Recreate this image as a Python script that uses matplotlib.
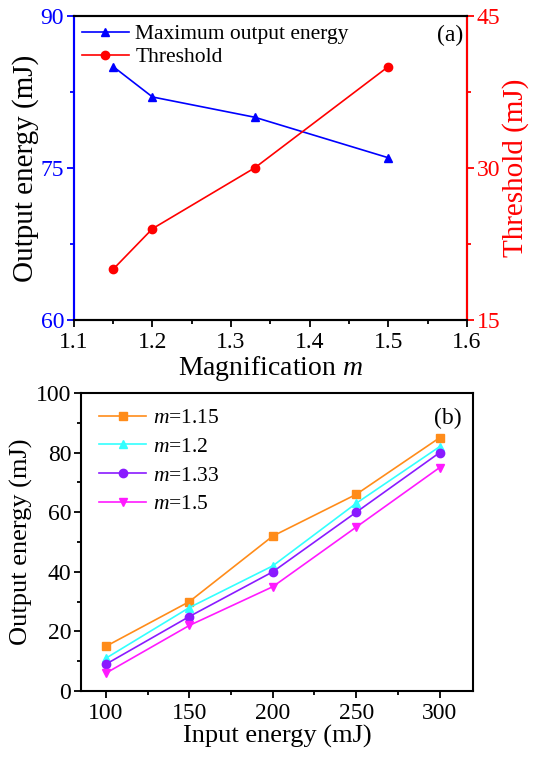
"""Two-panel chart: output energy / threshold vs magnification, and output vs input energy."""

import matplotlib
matplotlib.use('Agg')
import matplotlib.pyplot as plt
from matplotlib.ticker import MultipleLocator

plt.rcParams['font.family'] = ['Liberation Serif', 'DejaVu Serif']
plt.rcParams['mathtext.fontset'] = 'custom'
plt.rcParams['mathtext.rm'] = 'Liberation Serif'
plt.rcParams['mathtext.it'] = 'Liberation Serif:italic'
plt.rcParams['xtick.direction'] = 'out'
plt.rcParams['ytick.direction'] = 'out'

# Panel (a)
magnification = [1.15, 1.2, 1.33, 1.5]
max_output = [85, 82, 80, 76]
threshold = [20, 24, 30, 40]

# Panel (b)
input_energy = [100, 150, 200, 250, 300]
out_m115 = [15, 30, 52, 66, 85]
out_m12 = [11, 28, 42, 63, 82]
out_m133 = [9, 25, 40, 60, 80]
out_m15 = [6, 22, 35, 55, 75]

BLUE = '#0000FF'
RED = '#FF0000'

fig = plt.figure(figsize=(5.43, 7.58), dpi=100)

# ---- panel (a) ----
ax1 = fig.add_axes([0.136, 0.578, 0.724, 0.401])
ax2 = ax1.twinx()

l1, = ax1.plot(magnification, max_output, color=BLUE, marker='^', markersize=6,
               linewidth=1.2, label='Maximum output energy')
l2, = ax2.plot(magnification, threshold, color=RED, marker='o', markersize=6,
               linewidth=1.2, label='Threshold')

ax1.set_xlim(1.1, 1.6)
ax1.set_ylim(60, 90)
ax2.set_ylim(15, 45)
ax1.xaxis.set_major_locator(MultipleLocator(0.1))
ax1.xaxis.set_minor_locator(MultipleLocator(0.05))
ax1.yaxis.set_major_locator(MultipleLocator(15))
ax1.yaxis.set_minor_locator(MultipleLocator(7.5))
ax2.yaxis.set_major_locator(MultipleLocator(15))
ax2.yaxis.set_minor_locator(MultipleLocator(7.5))
ax1.xaxis.set_major_formatter(lambda v, p: f'{v:.1f}')

for sp in ('left', 'right', 'top', 'bottom'):
    ax1.spines[sp].set_linewidth(1.5)
    ax2.spines[sp].set_linewidth(1.5)
ax2.spines['left'].set_color(BLUE)
ax2.spines['right'].set_color(RED)
ax1.spines['left'].set_color(BLUE)

ax1.tick_params(axis='x', which='major', length=5, width=1.3, labelsize=17)
ax1.tick_params(axis='x', which='minor', length=3, width=1.3)
ax1.tick_params(axis='y', which='both', colors=BLUE, labelcolor=BLUE, labelsize=17, width=1.3)
ax1.tick_params(axis='y', which='major', length=5, pad=2)
ax1.tick_params(axis='y', which='minor', length=3)
ax2.tick_params(axis='y', which='both', colors=RED, labelcolor=RED, labelsize=17, width=1.3)
ax2.tick_params(axis='y', which='major', length=5, pad=2)
ax2.tick_params(axis='y', which='minor', length=3)

ax1.set_xlabel(r'Magnification $m$', fontsize=20, labelpad=1)
ax1.set_ylabel('Output energy (mJ)', fontsize=21, labelpad=1)
ax2.set_ylabel('Threshold (mJ)', fontsize=21, color=RED, labelpad=1)

ax1.legend(handles=[l1, l2], loc='upper left', bbox_to_anchor=(-0.005, 1.005),
           frameon=False, fontsize=15.5, handlelength=2.2, borderaxespad=0.05,
           labelspacing=0.15, handletextpad=0.3)
ax1.text(0.99, 0.97, '(a)', transform=ax1.transAxes, ha='right', va='top', fontsize=17)

# ---- panel (b) ----
ax3 = fig.add_axes([0.149, 0.0884, 0.722, 0.393])
series = [
    (out_m115, '#FF8C1A', 's', r'$m$=1.15'),
    (out_m12, '#33FFFF', '^', r'$m$=1.2'),
    (out_m133, '#8A1AFF', 'o', r'$m$=1.33'),
    (out_m15, '#FF1AFF', 'v', r'$m$=1.5'),
]
for vals, col, mk, lab in series:
    ax3.plot(input_energy, vals, color=col, marker=mk, markersize=6,
             linewidth=1.2, label=lab)

ax3.set_xlim(85, 320)
ax3.set_ylim(0, 100)
ax3.xaxis.set_major_locator(MultipleLocator(50))
ax3.xaxis.set_minor_locator(MultipleLocator(25))
ax3.yaxis.set_major_locator(MultipleLocator(20))
ax3.yaxis.set_minor_locator(MultipleLocator(10))
for sp in ax3.spines.values():
    sp.set_linewidth(1.5)
ax3.tick_params(axis='both', which='major', length=5, width=1.3, labelsize=17)
ax3.tick_params(axis='y', which='major', pad=2)
ax3.tick_params(axis='both', which='minor', length=3, width=1.3)
ax3.set_xlabel('Input energy (mJ)', fontsize=19, labelpad=1)
ax3.set_ylabel('Output energy (mJ)', fontsize=19, labelpad=2)
ax3.legend(loc='upper left', bbox_to_anchor=(0.008, 1.0), frameon=False,
           fontsize=15.5, handlelength=2.2, borderaxespad=0.3, labelspacing=0.4,
           handletextpad=0.3)
ax3.text(0.97, 0.95, '(b)', transform=ax3.transAxes, ha='right', va='top', fontsize=17)

fig.savefig('out.png', dpi=100)
